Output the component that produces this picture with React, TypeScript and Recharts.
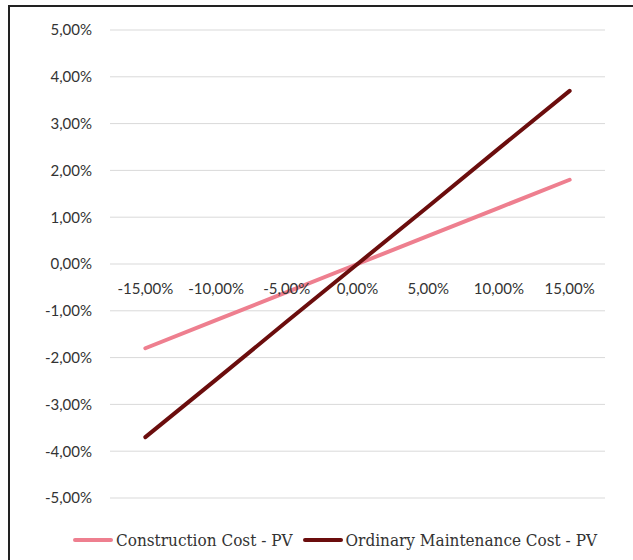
import React from 'react';
import { LineChart, Line, XAxis, YAxis, CartesianGrid, Legend } from 'recharts';

const categories = ['-15,00%', '-10,00%', '-5,00%', '0,00%', '5,00%', '10,00%', '15,00%'];
const constructionCost = [-1.8, -1.2, -0.6, 0, 0.6, 1.2, 1.8];
const maintenanceCost = [-3.7, -2.47, -1.23, 0, 1.23, 2.47, 3.7];
const yTicks = [-5, -4, -3, -2, -1, 0, 1, 2, 3, 4, 5];

const seriesNames = ['Construction Cost - PV', 'Ordinary Maintenance Cost - PV'];
const seriesColors = ['#EE7F8F', '#6B0D0D'];

const data = categories.map((c, i) => ({
  cat: c,
  construction: constructionCost[i],
  maintenance: maintenanceCost[i],
}));

const W = 633;
const H = 560;
const MARGIN = { top: 30, right: 28, left: 0, bottom: 8 };
const X_AXIS_H = 30;
const LEGEND_H = 24;
const PLOT_TOP = MARGIN.top;
const PLOT_BOTTOM = H - MARGIN.bottom - LEGEND_H - X_AXIS_H;
const Y_MIN = -5;
const Y_MAX = 5;
const ZERO_Y = PLOT_TOP + ((Y_MAX - 0) / (Y_MAX - Y_MIN)) * (PLOT_BOTTOM - PLOT_TOP);

const fmt = (v: number) => v.toFixed(2).replace('.', ',') + '%';

const XTick = (props: any) => {
  const { x, payload } = props;
  return (
    <text
      x={x}
      y={ZERO_Y + 30}
      textAnchor="middle"
      fontFamily="Lato, sans-serif"
      fontSize={15}
      fill="#333"
    >
      {payload.value}
    </text>
  );
};

const LegendContent = () => (
  <div
    style={{
      display: 'flex',
      justifyContent: 'center',
      alignItems: 'center',
      height: LEGEND_H,
      fontFamily: '"DejaVu Serif Condensed", "DejaVu Serif", serif',
      fontSize: 17,
      color: '#333',
      paddingLeft: 65,
      whiteSpace: 'nowrap',
    }}
  >
    {seriesNames.map((n, i) => (
      <div key={n} style={{ display: 'flex', alignItems: 'center', marginRight: i === 0 ? 10 : 0 }}>
        <div
          style={{
            width: 40,
            height: 4,
            borderRadius: 2,
            background: seriesColors[i],
            marginRight: 3,
          }}
        />
        <span>{n}</span>
      </div>
    ))}
  </div>
);

export default function App() {
  return (
    <div
      style={{
        position: 'absolute',
        left: 0,
        top: 0,
        width: W,
        height: H,
        overflow: 'hidden',
        background: '#fff',
      }}
    >
      <div
        style={{
          position: 'absolute',
          left: 8,
          top: 5,
          width: 700,
          height: 700,
          border: '2px solid #222',
          boxSizing: 'border-box',
        }}
      />
      <div style={{ position: 'absolute', left: 0, top: 0 }}>
        <LineChart width={W} height={H} data={data} margin={MARGIN}>
          <CartesianGrid horizontal vertical={false} stroke="#d9d9d9" />
          <XAxis
            dataKey="cat"
            scale="band"
            axisLine={false}
            tickLine={false}
            height={X_AXIS_H}
            tick={<XTick />}
            interval={0}
          />
          <YAxis
            domain={[Y_MIN, Y_MAX]}
            ticks={yTicks}
            tickFormatter={fmt}
            axisLine={false}
            tickLine={false}
            width={110}
            tickSize={0}
            tickMargin={18}
            tick={{ fontFamily: 'Lato, sans-serif', fontSize: 15, fill: '#333' }}
            interval={0}
          />
          <Legend verticalAlign="bottom" height={LEGEND_H} content={<LegendContent />} />
          <Line
            dataKey="construction"
            name={seriesNames[0]}
            stroke={seriesColors[0]}
            strokeWidth={4}
            strokeLinecap="round"
            dot={false}
            activeDot={false}
            isAnimationActive={false}
          />
          <Line
            dataKey="maintenance"
            name={seriesNames[1]}
            stroke={seriesColors[1]}
            strokeWidth={4}
            strokeLinecap="round"
            dot={false}
            activeDot={false}
            isAnimationActive={false}
          />
        </LineChart>
      </div>
    </div>
  );
}
